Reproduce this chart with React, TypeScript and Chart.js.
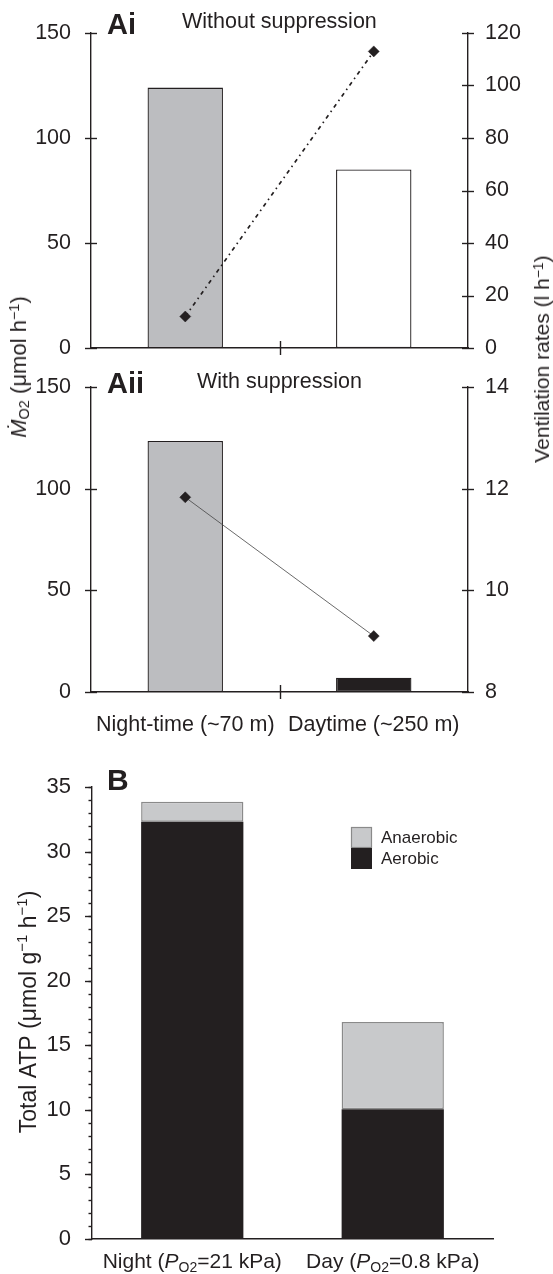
import React, { useEffect, useRef } from "react";
import { Chart, registerables } from "chart.js";

Chart.register(...registerables);

const FONT = "'Liberation Sans', Arial, Helvetica, sans-serif";
const INK = "#231f20";

// ---- Panel A data ----
const categoriesA = ["Night-time (~70 m)", "Daytime (~250 m)"];
const mo2WithoutSuppression = [124, 85];
const ventilationWithoutSuppression = [12, 113];
const mo2WithSuppression = [123.5, 7];
const ventilationWithSuppression = [11.83, 9.1];
const leftTicksA = [0, 50, 100, 150];
const rightTicksAi = [0, 20, 40, 60, 80, 100, 120];
const rightTicksAii = [8, 10, 12, 14];

// ---- Panel B data ----
const categoriesB = ["Night", "Day"];
const po2Values = ["21", "0.8"];
const aerobicATP = [32.3, 10.05];
const anaerobicATP = [1.55, 6.75];
const ticksB = [0, 5, 10, 15, 20, 25, 30, 35];

type Seg = { t: string; i?: boolean; b?: boolean; sub?: boolean; sup?: boolean };

function segFont(s: Seg, size: number) {
  const sz = s.sub || s.sup ? Math.round(size * 0.66) : size;
  return `${s.i ? "italic " : ""}${s.b ? "bold " : ""}${sz}px ${FONT}`;
}

function drawRich(ctx: CanvasRenderingContext2D, segs: Seg[], x: number, y: number, size: number, align: string) {
  let w = 0;
  for (const s of segs) {
    ctx.font = segFont(s, size);
    w += ctx.measureText(s.t).width;
  }
  let cx = align === "center" ? x - w / 2 : x;
  ctx.textBaseline = "alphabetic";
  ctx.textAlign = "left";
  for (const s of segs) {
    ctx.font = segFont(s, size);
    const dy = s.sub ? size * 0.2 : s.sup ? -size * 0.38 : 0;
    ctx.fillText(s.t, cx, y + dy);
    cx += ctx.measureText(s.t).width;
  }
}

const scaleRange = (t: number[]) => ({ min: t[0], max: t[t.length - 1], step: t[1] - t[0] });

function makeTicksPlugin(specs: any[]) {
  return {
    id: "axisTicks",
    afterDatasetsDraw(chart: any) {
      const ctx = chart.ctx;
      ctx.save();
      ctx.strokeStyle = INK;
      ctx.lineWidth = 1.4;
      for (const sp of specs) {
        const sc = chart.scales[sp.id];
        if (!sc) continue;
        if (sp.kind === "y") {
          const x0 = sp.side === "left" ? sc.right : sc.left;
          const dir = sp.side === "left" ? -1 : 1;
          for (let v = sc.min; v <= sc.max + 1e-9; v += sp.step) {
            const y = Math.round(sc.getPixelForValue(v)) + 0.5;
            ctx.beginPath();
            ctx.moveTo(x0 + dir * sp.out, y);
            ctx.lineTo(x0 - dir * sp.inner, y);
            ctx.stroke();
          }
        } else {
          const y0 = sc.top;
          const n = chart.data.labels.length;
          for (let i = 1; i < n; i++) {
            const x = Math.round((sc.getPixelForValue(i - 1) + sc.getPixelForValue(i)) / 2) + 0.5;
            ctx.beginPath();
            ctx.moveTo(x, y0 - sp.up);
            ctx.lineTo(x, y0 + sp.down);
            ctx.stroke();
          }
        }
      }
      ctx.restore();
    },
  };
}

function makeRichPlugin(items: any[], xLabels?: { segs: Seg[][]; offset: number; size: number }) {
  return {
    id: "richLabels",
    afterDraw(chart: any) {
      const ctx = chart.ctx;
      ctx.save();
      ctx.fillStyle = INK;
      for (const it of items) {
        ctx.save();
        ctx.translate(it.x, it.y);
        if (it.rotate) ctx.rotate(it.rotate);
        drawRich(ctx, it.segs, 0, 0, it.size, it.align || "left");
        ctx.restore();
      }
      if (xLabels) {
        const sc = chart.scales.x;
        xLabels.segs.forEach((segs, i) => {
          drawRich(ctx, segs, sc.getPixelForValue(i), sc.top + xLabels.offset, xLabels.size, "center");
        });
      }
      ctx.restore();
    },
  };
}

function makeLegendPlugin(dx: number, dy: number, box: number, size: number) {
  return {
    id: "boxLegend",
    afterDraw(chart: any) {
      const ctx = chart.ctx;
      const { left, top } = chart.chartArea;
      const ds = [...chart.data.datasets].reverse();
      ctx.save();
      ds.forEach((d: any, i: number) => {
        const x = left + dx;
        const y = top + dy + i * box;
        ctx.fillStyle = d.backgroundColor;
        ctx.fillRect(x, y, box, box);
        if (d.borderWidth) {
          ctx.strokeStyle = d.borderColor;
          ctx.lineWidth = 1.2;
          ctx.strokeRect(x + 0.5, y + 0.5, box - 1, box - 1);
        }
        ctx.fillStyle = INK;
        ctx.font = `${size}px ${FONT}`;
        ctx.textBaseline = "middle";
        ctx.textAlign = "left";
        ctx.fillText(d.label, x + box + 9, y + box / 2 + 1);
      });
      ctx.restore();
    },
  };
}

const fixY = (width: number) => (s: any) => {
  s.width = width;
  s.paddingTop = 0;
  s.paddingBottom = 0;
};

function panelAConfig(p: {
  mo2: number[];
  vent: number[];
  barColors: string[];
  rightTicks: number[];
  dashed: boolean;
  padTop: number;
  xHeight: number;
  showX: boolean;
  title: string;
  titleY: number;
  subtitle: string;
  subtitleX: number;
  subtitleY: number;
}): any {
  const l = scaleRange(leftTicksA);
  const r = scaleRange(p.rightTicks);
  const axisStyle = { display: true, color: INK, width: 1.4 };
  return {
    type: "bar",
    data: {
      labels: categoriesA,
      datasets: [
        {
          type: "line",
          label: "Ventilation rate",
          data: p.vent,
          yAxisID: "y1",
          order: 0,
          borderColor: p.dashed ? INK : "#444",
          borderWidth: p.dashed ? 1.7 : 0.8,
          borderDash: p.dashed ? [4, 4, 1.5, 4] : [],
          pointStyle: "rectRot",
          pointRadius: 5.5,
          pointBackgroundColor: INK,
          pointBorderColor: INK,
          pointBorderWidth: 0.5,
          tension: 0,
          fill: false,
        },
        {
          type: "bar",
          label: "MO2",
          data: p.mo2,
          yAxisID: "y",
          order: 1,
          backgroundColor: p.barColors,
          borderColor: INK,
          borderWidth: 1.3,
          borderSkipped: false,
          barPercentage: 0.4,
          categoryPercentage: 1,
        },
      ],
    },
    options: {
      responsive: false,
      animation: false,
      devicePixelRatio: 1,
      layout: { padding: { top: p.padTop, left: 0, right: 0, bottom: 0 } },
      plugins: { legend: { display: false }, tooltip: { enabled: false } },
      scales: {
        x: {
          offset: true,
          grid: { display: false },
          border: axisStyle,
          ticks: {
            display: p.showX,
            color: INK,
            font: { family: FONT, size: 21.5 },
            padding: 12,
            maxRotation: 0,
            autoSkip: false,
          },
          afterFit: (s: any) => {
            s.height = p.xHeight;
          },
        },
        y: {
          position: "left",
          min: l.min,
          max: l.max,
          grid: { display: false },
          border: axisStyle,
          ticks: { stepSize: l.step, color: INK, font: { family: FONT, size: 21.5 }, padding: 12 },
          afterFit: fixY(91),
        },
        y1: {
          position: "right",
          min: r.min,
          max: r.max,
          grid: { display: false },
          border: axisStyle,
          ticks: { stepSize: r.step, color: INK, font: { family: FONT, size: 21.5 }, padding: 9 },
          afterFit: fixY(85),
        },
      },
    },
    plugins: [
      makeTicksPlugin([
        { kind: "y", id: "y", side: "left", out: 6, inner: 6, step: l.step },
        { kind: "y", id: "y1", side: "right", out: 6, inner: 6, step: r.step },
        { kind: "x", id: "x", up: 7, down: 7 },
      ]),
      makeRichPlugin([
        { x: 107, y: p.titleY, size: 29, segs: [{ t: p.title, b: true }] },
        { x: p.subtitleX, y: p.subtitleY, size: 21.5, segs: [{ t: p.subtitle }] },
      ]),
    ],
  };
}

function makeAi() {
  return panelAConfig({
    mo2: mo2WithoutSuppression,
    vent: ventilationWithoutSuppression,
    barColors: ["#bcbdc0", "#ffffff"],
    rightTicks: rightTicksAi,
    dashed: true,
    padTop: 33,
    xHeight: 12,
    showX: false,
    title: "Ai",
    titleY: 34,
    subtitle: "Without suppression",
    subtitleX: 182,
    subtitleY: 28,
  });
}

function makeAii() {
  return panelAConfig({
    mo2: mo2WithSuppression,
    vent: ventilationWithSuppression,
    barColors: ["#bcbdc0", "#231f20"],
    rightTicks: rightTicksAii,
    dashed: false,
    padTop: 27,
    xHeight: 48,
    showX: true,
    title: "Aii",
    titleY: 33,
    subtitle: "With suppression",
    subtitleX: 197,
    subtitleY: 28,
  });
}

function makeB(): any {
  const r = scaleRange(ticksB);
  const axisStyle = { display: true, color: INK, width: 1.4 };
  const xSegs: Seg[][] = categoriesB.map((c, i) => [
    { t: `${c} (` },
    { t: "P", i: true },
    { t: "O2", sub: true },
    { t: `=${po2Values[i]} kPa)` },
  ]);
  return {
    type: "bar",
    data: {
      labels: categoriesB,
      datasets: [
        {
          label: "Aerobic",
          data: aerobicATP,
          backgroundColor: "#231f20",
          borderWidth: 0,
          barPercentage: 0.51,
          categoryPercentage: 1,
        },
        {
          label: "Anaerobic",
          data: anaerobicATP,
          backgroundColor: "#c8c9cb",
          borderColor: "#8a8a8a",
          borderWidth: 1.5,
          borderSkipped: false,
          barPercentage: 0.51,
          categoryPercentage: 1,
        },
      ],
    },
    options: {
      responsive: false,
      animation: false,
      devicePixelRatio: 1,
      layout: { padding: { top: 57, left: 0, right: 60, bottom: 0 } },
      plugins: { legend: { display: false }, tooltip: { enabled: false } },
      scales: {
        x: {
          stacked: true,
          offset: true,
          grid: { display: false },
          border: axisStyle,
          ticks: { display: false },
          afterFit: (s: any) => {
            s.height = 35;
          },
        },
        y: {
          stacked: true,
          min: r.min,
          max: r.max,
          grid: { display: false },
          border: axisStyle,
          ticks: { stepSize: r.step, color: INK, font: { family: FONT, size: 22 }, padding: 13 },
          afterFit: fixY(92),
        },
      },
    },
    plugins: [
      makeTicksPlugin([
        { kind: "y", id: "y", side: "left", out: 7, inner: 0, step: r.step },
        { kind: "y", id: "y", side: "left", out: 3.5, inner: 0, step: 1 },
      ]),
      makeRichPlugin(
        [
          { x: 107, y: 60, size: 30, segs: [{ t: "B", b: true }] },
          {
            x: 36,
            y: 282,
            size: 23,
            rotate: -Math.PI / 2,
            align: "center",
            segs: [
              { t: "Total ATP (μmol g" },
              { t: "−1", sup: true },
              { t: " h" },
              { t: "−1", sup: true },
              { t: ")" },
            ],
          },
        ],
        { segs: xSegs, offset: 29, size: 21 }
      ),
      makeLegendPlugin(259, 40, 21, 17),
    ],
  };
}

function ChartCanvas({ make, top, height }: { make: () => any; top: number; height: number }) {
  const ref = useRef<HTMLCanvasElement>(null);
  useEffect(() => {
    const chart = new Chart(ref.current as HTMLCanvasElement, make());
    return () => chart.destroy();
  }, []);
  return (
    <canvas
      ref={ref}
      width={553}
      height={height}
      style={{ position: "absolute", left: 0, top, width: 553, height, display: "block" }}
    />
  );
}

const rotated = (cx: number, cy: number, size: number): React.CSSProperties => ({
  position: "absolute",
  left: cx,
  top: cy,
  transform: "translate(-50%, -50%) rotate(-90deg)",
  whiteSpace: "nowrap",
  fontFamily: FONT,
  fontSize: size,
  lineHeight: "24px",
  color: INK,
});

const subStyle: React.CSSProperties = { fontSize: "0.66em", verticalAlign: "-0.2em", lineHeight: 0 };
const supStyle: React.CSSProperties = { fontSize: "0.66em", verticalAlign: "0.45em", lineHeight: 0 };

export default function App() {
  useEffect(() => {
    document.body.style.margin = "0";
  }, []);
  return (
    <div style={{ position: "relative", width: 553, height: 1274, background: "#fff", overflow: "hidden" }}>
      <ChartCanvas make={makeAi} top={0} height={360} />
      <ChartCanvas make={makeAii} top={360} height={380} />
      <ChartCanvas make={makeB} top={730} height={544} />
      <div style={rotated(19, 367, 22)}>
        <i>Ṁ</i>
        <span style={subStyle}>O2</span> (μmol h<span style={supStyle}>−1</span>)
      </div>
      <div style={rotated(542, 359, 21)}>
        Ventilation rates (l h<span style={supStyle}>−1</span>)
      </div>
    </div>
  );
}
